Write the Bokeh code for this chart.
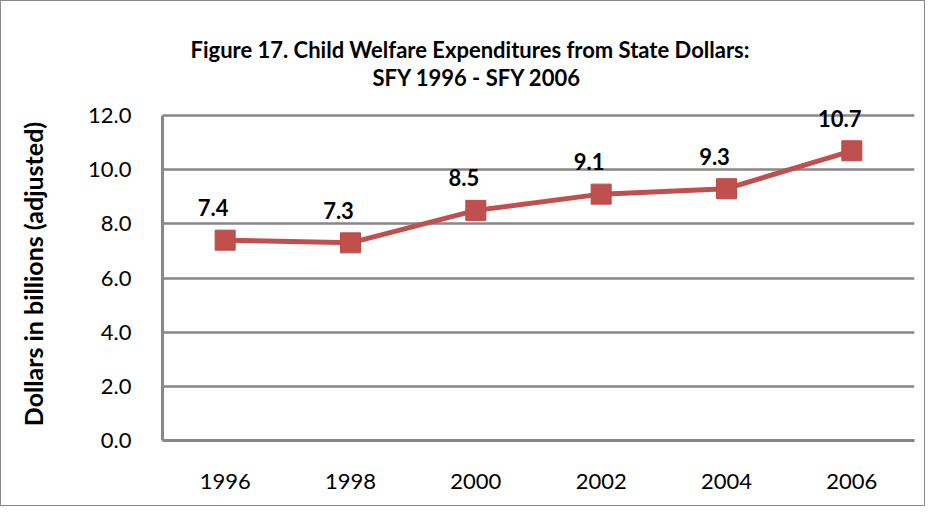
from bokeh.plotting import figure
from bokeh.models import ColumnDataSource, FixedTicker, NumeralTickFormatter, LabelSet, Range1d, Title
from bokeh.core.properties import value
from bokeh.embed import file_html
from bokeh.resources import INLINE

years = ["1996", "1998", "2000", "2002", "2004", "2006"]
values = [7.4, 7.3, 8.5, 9.1, 9.3, 10.7]
labels = ["7.4", "7.3", "8.5", "9.1", "9.3", "10.7"]
y_ticks = [0, 2, 4, 6, 8, 10, 12]
title_1 = "Figure 17. Child Welfare Expenditures from State Dollars:"
title_2 = "SFY 1996 - SFY 2006"

FONT = "Lato"
RED = "#C0504D"
GRID = "#878787"

src = ColumnDataSource(data=dict(x=years, y=values, lab=labels))

p = figure(width=925, height=506, x_range=years, y_range=Range1d(0, 12.3),
           output_backend="svg", toolbar_location=None,
           min_border_left=161, min_border_right=12, min_border_top=106, min_border_bottom=67)
p.styles = {"border": "1px solid #8a8a8a"}
p.title = None

t2 = Title(text=title_2, align="left", offset=210, text_font=FONT, text_font_style="bold",
           text_font_size="22px", text_color="black", standoff=34)
t1 = Title(text=title_1, align="left", offset=28, text_font=FONT, text_font_style="bold",
           text_font_size="22px", text_color="black", standoff=-37)
p.add_layout(t2, "above")
p.add_layout(t1, "above")

p.outline_line_color = None
p.background_fill_color = "white"
p.border_fill_color = "white"

p.xgrid.grid_line_color = None
p.ygrid.grid_line_color = GRID
p.ygrid.grid_line_width = 2.5
p.ygrid.ticker = FixedTicker(ticks=y_ticks)

p.yaxis.ticker = FixedTicker(ticks=y_ticks)
p.yaxis.bounds = (0, 12)
p.yaxis.formatter = NumeralTickFormatter(format="0.0")
p.yaxis.axis_line_color = GRID
p.yaxis.axis_line_width = 3
p.yaxis.major_tick_line_color = None
p.yaxis.minor_tick_line_color = None
p.yaxis.major_label_standoff = 25
p.yaxis.major_label_text_font = FONT
p.yaxis.major_label_text_font_size = "22px"
p.yaxis.major_label_text_color = "black"
p.yaxis.axis_label = "Dollars in billions (adjusted)"
p.yaxis.axis_label_text_font = FONT
p.yaxis.axis_label_text_font_style = "bold"
p.yaxis.axis_label_text_font_size = "25px"
p.yaxis.axis_label_text_color = "black"
p.yaxis.axis_label_standoff = 37

p.xaxis.axis_line_color = GRID
p.xaxis.axis_line_width = 3
p.xaxis.major_tick_line_color = None
p.xaxis.minor_tick_line_color = None
p.xaxis.major_label_standoff = 27
p.xaxis.major_label_text_font = FONT
p.xaxis.major_label_text_font_size = "22px"
p.xaxis.major_label_text_color = "black"

p.line("x", "y", source=src, line_color=RED, line_width=5)
p.scatter("x", "y", source=src, marker="square", size=20, fill_color=RED, line_color="#B84A47", line_width=1)

ls = LabelSet(x="x", y="y", text="lab", source=src, x_offset=-12, y_offset=24,
              text_align="center", text_baseline="alphabetic", text_font=value(FONT),
              text_font_style="bold", text_font_size="22px", text_color="black")
p.add_layout(ls)

open("out.html", "w").write(file_html(p, INLINE))
